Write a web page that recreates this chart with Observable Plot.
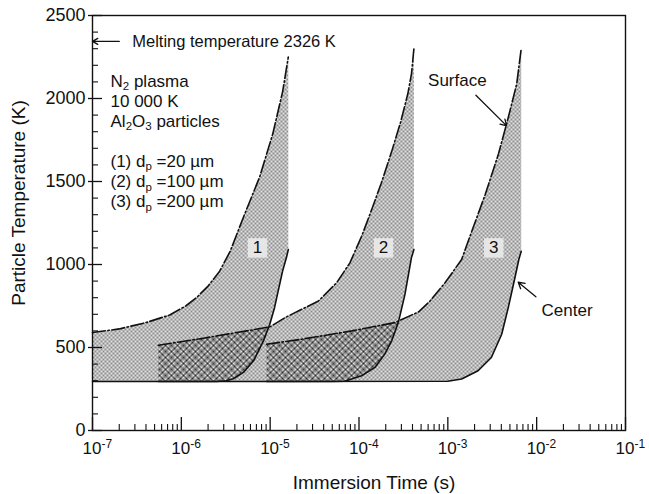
<!DOCTYPE html>
<html><head><meta charset="utf-8">
<script src="https://cdn.jsdelivr.net/npm/d3@7"></script>
<script src="https://cdn.jsdelivr.net/npm/@observablehq/plot@0.6"></script>
<style>html,body{margin:0;padding:0;background:#fff}</style>
</head><body><div id="chart"></div>
<script>
// ---------- data ----------
const surface1Time = [1e-7, 2e-7, 4e-7, 7.4e-7, 1.12e-6, 1.48e-6, 2e-6, 2.7e-6, 3.55e-6, 5e-6, 7.6e-6, 1.07e-5, 1.38e-5, 1.6e-5];
const surface1Temp = [590, 612, 650, 696, 750, 800, 870, 960, 1080, 1285, 1526, 1787, 2040, 2250];
const center1Time  = [1e-7, 2.5e-6, 3.2e-6, 3.85e-6, 5e-6, 6.5e-6, 8.4e-6, 9.9e-6, 1.12e-5, 1.23e-5, 1.38e-5, 1.53e-5, 1.6e-5];
const center1Temp  = [295, 295, 300, 312, 350, 420, 540, 640, 740, 840, 960, 1045, 1090];

const surface2Time = [5.5e-7, 1.77e-6, 4.2e-6, 9.9e-6, 1.47e-5, 3.5e-5, 5.6e-5, 7.9e-5, 1.07e-4, 1.41e-4, 1.78e-4, 2.33e-4, 2.95e-4, 3.55e-4, 3.9e-4, 4.15e-4];
const surface2Temp = [514, 556, 590, 624, 680, 780, 890, 1010, 1170, 1340, 1490, 1680, 1860, 2030, 2150, 2300];
const center2Time  = [5.5e-7, 5e-5, 6.9e-5, 1.07e-4, 1.51e-4, 1.95e-4, 2.33e-4, 2.77e-4, 3.29e-4, 3.89e-4, 4.15e-4];
const center2Temp  = [295, 295, 297, 330, 380, 460, 540, 650, 820, 1040, 1090];

const surface3Time = [9.1e-6, 2.26e-5, 8.3e-5, 2.54e-4, 4.7e-4, 6.3e-4, 9.3e-4, 1.43e-3, 1.86e-3, 2.63e-3, 3.72e-3, 4.8e-3, 5.96e-3, 6.7e-3];
const surface3Temp = [520, 550, 600, 650, 715, 780, 890, 1030, 1200, 1420, 1667, 1887, 2088, 2300];
const center3Time  = [9.1e-6, 1e-3, 1.43e-3, 2.19e-3, 3.09e-3, 4.04e-3, 4.79e-3, 5.69e-3, 6.3e-3, 6.7e-3];
const center3Temp  = [295, 297, 310, 360, 440, 580, 740, 920, 1030, 1080];

const regionLabels = ["1", "2", "3"];
const labelTime = [7.2e-6, 1.89e-4, 3.29e-3];
const labelTemp = [1100, 1100, 1100];

const particleDiameters = [20, 100, 200];
const meltTemp = 2326;

const yMajorTicks = [0, 500, 1000, 1500, 2000, 2500];
const yMinorTicks = [100,200,300,400,600,700,800,900,1100,1200,1300,1400,1600,1700,1800,1900,2100,2200,2300,2400];
const xTickExponents = [-7, -6, -5, -4, -3, -2, -1];
const xMinorMultipliers = [2, 3, 4, 5, 6, 7, 8, 9];

// annotations (data space)
const meltArrow = [{x1: 2.0e-7, x2: 1e-7, y: meltTemp}];
const meltText = [{x: 2.8e-7, y: meltTemp, text: `Melting temperature ${meltTemp} K`}];
const surfaceNote = [{x: 1.28e-3, y: 2108, text: "Surface", ax1: 2.07e-3, ay1: 2020, ax2: 4.6e-3, ay2: 1835}];
const centerNote = [{x: 2.2e-2, y: 722, text: "Center", ax1: 9.8e-3, ay1: 805, ax2: 6.2e-3, ay2: 893}];

// ---------- build tables ----------
const W = 649, H = 494, mL = 92, mT = 15, mR = 24, mB = 64;
const frameW = W - mL - mR, frameH = H - mT - mB;
const rows = (region, times, temps) => times.map((t, i) => ({region, t, T: temps[i]}));
const regions = [
  {id: 1, s: rows(1, surface1Time, surface1Temp), c: rows(1, center1Time, center1Temp)},
  {id: 2, s: rows(2, surface2Time, surface2Temp), c: rows(2, center2Time, center2Temp)},
  {id: 3, s: rows(3, surface3Time, surface3Temp), c: rows(3, center3Time, center3Temp)}
];
const polygons = regions.flatMap(r => [...r.s, ...r.c.slice().reverse()]);
const surfaceLines = regions.flatMap(r => r.s);
const centerLines = regions.flatMap(r => r.c);
const xMinor = xTickExponents.slice(0, -1).flatMap(e => xMinorMultipliers.map(m => m * 10 ** e));
const legendLines = [
  "N_{2} plasma", "10 000 K", "Al_{2}O_{3} particles", "\u00a0",
  ...particleDiameters.map((d, i) => `(${i + 1}) d_{p} =${d} µm`)
];

const font = "'Liberation Sans', Arial, Helvetica, sans-serif";
const ink = "#111";

const svg = Plot.plot({
  width: W, height: H, marginLeft: mL, marginTop: mT, marginRight: mR, marginBottom: mB,
  style: {fontFamily: font, fontSize: "17px", color: ink, background: "#fff"},
  x: {type: "log", domain: [1e-7, 1e-1], axis: null},
  y: {domain: [0, 2500], axis: null},
  marks: [
    Plot.line(polygons, {x: "t", y: "T", z: "region", fill: "url(#stip)", stroke: "none"}),
    Plot.line(centerLines, {x: "t", y: "T", z: "region", stroke: ink, strokeWidth: 1.6}),
    Plot.line(surfaceLines, {x: "t", y: "T", z: "region", stroke: ink, strokeWidth: 1.6, strokeDasharray: "13,2.5,1.5,2.5"}),
    Plot.dot(regionLabels, {x: (d, i) => labelTime[i], y: (d, i) => labelTemp[i], symbol: "square", r: 11, fill: "#e6e6e6", stroke: "none"}),
    Plot.text(regionLabels, {x: (d, i) => labelTime[i], y: (d, i) => labelTemp[i], text: d => d, fontSize: 17}),
    // frame and ticks
    Plot.frame({stroke: ink, strokeWidth: 1.4}),
    Plot.ruleY(yMajorTicks, {y: d => d, insetLeft: -4, insetRight: frameW - 10, stroke: ink, strokeWidth: 1.3}),
    Plot.ruleY(yMinorTicks, {y: d => d, insetRight: frameW - 6, stroke: ink, strokeWidth: 1.1}),
    Plot.ruleX(xTickExponents, {x: e => 10 ** e, insetTop: frameH - 13, stroke: ink, strokeWidth: 1.3}),
    Plot.ruleX(xMinor, {x: d => d, insetTop: frameH - 6, stroke: ink, strokeWidth: 1.1}),
    Plot.text(yMajorTicks, {y: d => d, frameAnchor: "left", textAnchor: "end", lineAnchor: "middle", dx: -7, fontSize: 18, text: d => String(d)}),
    Plot.text(xTickExponents, {x: e => 10 ** e, frameAnchor: "bottom", textAnchor: "start", lineAnchor: "middle", dx: -10, dy: 18, fontSize: 17, text: e => `10^{${e}}`}),
    // axis titles
    Plot.text(["Particle Temperature (K)"], {frameAnchor: "left", textAnchor: "middle", lineAnchor: "middle", rotate: -90, dx: -74, dy: -20, fontSize: 19}),
    Plot.text(["Immersion Time (s)"], {frameAnchor: "bottom", textAnchor: "middle", lineAnchor: "middle", dx: 15, dy: 52, fontSize: 19}),
    // annotations
    Plot.arrow(meltArrow, {x1: "x1", x2: "x2", y1: "y", y2: "y", dy: -3, stroke: ink, strokeWidth: 1.3, headLength: 7}),
    Plot.text(meltText, {x: "x", y: "y", text: "text", textAnchor: "start", dy: -3, fontSize: 16.5}),
    Plot.text([legendLines.join("\n")], {frameAnchor: "top-left", textAnchor: "start", lineAnchor: "top", lineHeight: 1.18, dx: 18, dy: 57, fontSize: 17}),
    Plot.text(surfaceNote, {x: "x", y: "y", text: "text", fontSize: 17}),
    Plot.arrow(surfaceNote, {x1: "ax1", y1: "ay1", x2: "ax2", y2: "ay2", stroke: ink, strokeWidth: 1.3, headLength: 8}),
    Plot.text(centerNote, {x: "x", y: "y", text: "text", fontSize: 17}),
    Plot.arrow(centerNote, {x1: "ax1", y1: "ay1", x2: "ax2", y2: "ay2", stroke: ink, strokeWidth: 1.3, headLength: 8})
  ]
});

// ---------- patterns, overlap hatching, sub/superscripts ----------
const NS = "http://www.w3.org/2000/svg";
const el = (name, attrs, parent) => {
  const e = document.createElementNS(NS, name);
  for (const k in attrs) e.setAttribute(k, attrs[k]);
  if (parent) parent.appendChild(e);
  return e;
};
const defs = el("defs", {});
svg.insertBefore(defs, svg.firstChild);
const stip = el("pattern", {id: "stip", width: 4, height: 4, patternUnits: "userSpaceOnUse"}, defs);
el("rect", {width: 4, height: 4, fill: "#e2e2e2"}, stip);
el("rect", {width: 2, height: 2, fill: "#8e8e8e"}, stip);
el("rect", {x: 2, y: 2, width: 2, height: 2, fill: "#8e8e8e"}, stip);
const hatch = el("pattern", {id: "hatch", width: 6, height: 6, patternUnits: "userSpaceOnUse"}, defs);
el("path", {d: "M0,0L6,6M6,0L0,6M-1,5L1,7M5,-1L7,1", stroke: "#222", "stroke-width": 0.9, fill: "none"}, hatch);

const regionG = svg.querySelector('g[aria-label="line"]');
if (regionG) {
  const paths = Array.from(regionG.querySelectorAll("path"));
  for (let k = 0; k < paths.length - 1; k++) {
    const cp = el("clipPath", {id: "clipR" + k}, defs);
    const c = paths[k].cloneNode(false);
    cp.appendChild(c);
    const h = paths[k + 1].cloneNode(false);
    h.setAttribute("fill", "url(#hatch)");
    h.setAttribute("stroke", "none");
    h.setAttribute("clip-path", `url(#clipR${k})`);
    regionG.appendChild(h);
  }
}

function richText(root) {
  const walker = document.createTreeWalker(root, NodeFilter.SHOW_TEXT);
  const list = [];
  while (walker.nextNode()) if (/[_^]\{/.test(walker.currentNode.nodeValue)) list.push(walker.currentNode);
  for (const tn of list) {
    const s = tn.nodeValue, frag = document.createDocumentFragment();
    const re = /([_^])\{([^}]*)\}/g;
    let last = 0, m, pending = 0;
    const push = (txt) => {
      if (!txt) return;
      if (pending) { const t = el("tspan", {dy: -pending}); t.textContent = txt; frag.appendChild(t); pending = 0; }
      else frag.appendChild(document.createTextNode(txt));
    };
    while ((m = re.exec(s))) {
      push(s.slice(last, m.index));
      const shift = m[1] === "^" ? -6 : 3.5;
      const t = el("tspan", {dy: shift - pending, "font-size": m[1] === "^" ? "12px" : "11.5px"});
      t.textContent = m[2];
      frag.appendChild(t);
      pending = shift;
      last = re.lastIndex;
    }
    push(s.slice(last));
    tn.parentNode.replaceChild(frag, tn);
  }
}
richText(svg);

document.getElementById("chart").appendChild(svg);
</script>
</body></html>
